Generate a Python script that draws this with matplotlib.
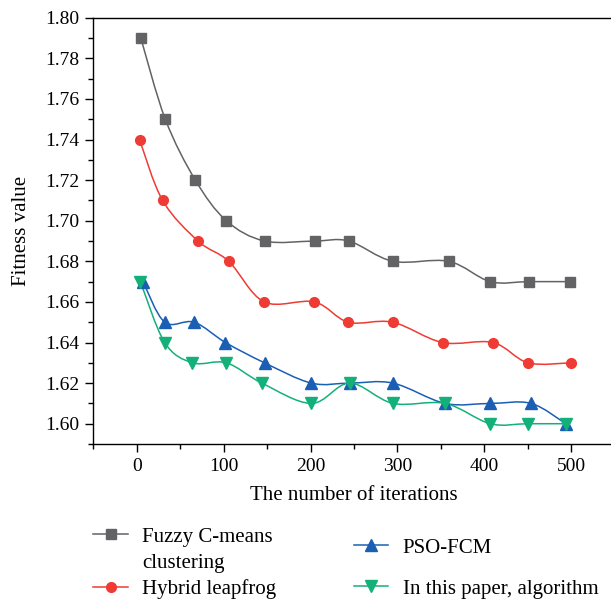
import numpy as np
import matplotlib
matplotlib.use('Agg')
import matplotlib.pyplot as plt
from matplotlib.path import Path
from matplotlib.patches import PathPatch
from matplotlib.lines import Line2D
from matplotlib.ticker import MultipleLocator

plt.rcParams['font.family'] = ['Liberation Serif', 'DejaVu Serif']

# data
fcm_x = [4.5, 32.7, 67.3, 103, 147, 205, 244, 295, 359, 407, 451, 498.6]
fcm_y = [1.79, 1.75, 1.72, 1.70, 1.69, 1.69, 1.69, 1.68, 1.68, 1.67, 1.67, 1.67]

hyb_x = [3, 29.6, 70.4, 105.8, 146.6, 204.5, 243.5, 294.5, 352, 410, 450.5, 500]
hyb_y = [1.74, 1.71, 1.69, 1.68, 1.66, 1.66, 1.65, 1.65, 1.64, 1.64, 1.63, 1.63]

pso_x = [7, 32, 66, 102, 147, 201, 245, 295, 355, 407, 454, 494]
pso_y = [1.67, 1.65, 1.65, 1.64, 1.63, 1.62, 1.62, 1.62, 1.61, 1.61, 1.61, 1.60]

our_x = [4, 32, 64, 103, 144, 201, 245, 295, 355, 407, 450, 494]
our_y = [1.67, 1.64, 1.63, 1.63, 1.62, 1.61, 1.62, 1.61, 1.61, 1.60, 1.60, 1.60]

labels = ['Fuzzy C-means', 'Hybrid leapfrog', 'PSO-FCM', 'In this paper, algorithm']
colors = ['#636366', '#ee3b33', '#1a5fb4', '#14b07a']
markers = ['s', 'o', '^', 'v']
msizes = [6.5, 7, 8, 8]


def smooth_path(x, y):
    # catmull-rom style bezier through the points (like origin's spline line)
    x = np.asarray(x, float)
    y = np.asarray(y, float)
    verts = [(x[0], y[0])]
    codes = [Path.MOVETO]
    n = len(x)
    for i in range(n - 1):
        i0 = max(i - 1, 0)
        i3 = min(i + 2, n - 1)
        c1 = (x[i] + (x[i + 1] - x[i0]) / 6, y[i] + (y[i + 1] - y[i0]) / 6)
        c2 = (x[i + 1] - (x[i3] - x[i]) / 6, y[i + 1] - (y[i3] - y[i]) / 6)
        verts += [c1, c2, (x[i + 1], y[i + 1])]
        codes += [Path.CURVE4] * 3
    return Path(verts, codes)


fig = plt.figure(figsize=(6.11, 6.01), dpi=100)
ax = fig.add_axes([0.153, 0.2612, 0.8527, 0.7093])

series = [(fcm_x, fcm_y), (hyb_x, hyb_y), (pso_x, pso_y), (our_x, our_y)]
for (xs, ys), c, m, ms in zip(series, colors, markers, msizes):
    ax.add_patch(PathPatch(smooth_path(xs, ys), facecolor='none', edgecolor=c, lw=1.1))
    ax.plot(xs, ys, ls='none', marker=m, ms=ms, color=c, mec=c)

ax.set_xlim(-50, 550)
ax.set_ylim(1.59, 1.80)
ax.xaxis.set_major_locator(MultipleLocator(100))
ax.xaxis.set_minor_locator(MultipleLocator(50))
ax.yaxis.set_major_locator(MultipleLocator(0.02))
ax.yaxis.set_minor_locator(MultipleLocator(0.01))
ax.yaxis.set_major_formatter(matplotlib.ticker.FormatStrFormatter('%.2f'))
ax.tick_params(which='major', direction='out', length=6, width=1, labelsize=14, pad=4)
ax.tick_params(which='minor', direction='out', length=3.5, width=1)
ax.spines['right'].set_visible(False)
for s in ['left', 'bottom', 'top']:
    ax.spines[s].set_linewidth(1)

ax.set_xlabel('The number of iterations', fontsize=15, labelpad=8)
ax.set_ylabel('Fitness value', fontsize=15, labelpad=10)

# legend entries placed like the original (two columns under the plot)
spots = [(0.153, 0.1065), (0.153, 0.02), (0.579, 0.0882), (0.579, 0.02)]
for lab, c, m, ms, (lx, ly) in zip(labels, colors, markers, msizes, spots):
    h = Line2D([], [], color=c, marker=m, ms=ms, lw=1.1)
    fig.legend(handles=[h], labels=[lab], loc='center left', bbox_to_anchor=(lx, ly),
               frameon=False, fontsize=15, handlelength=1.65, handletextpad=0.7,
               borderpad=0, borderaxespad=0)
fig.text(0.2324, 0.0632, 'clustering', fontsize=15, va='center', ha='left')

fig.savefig('out.png', dpi=100)
